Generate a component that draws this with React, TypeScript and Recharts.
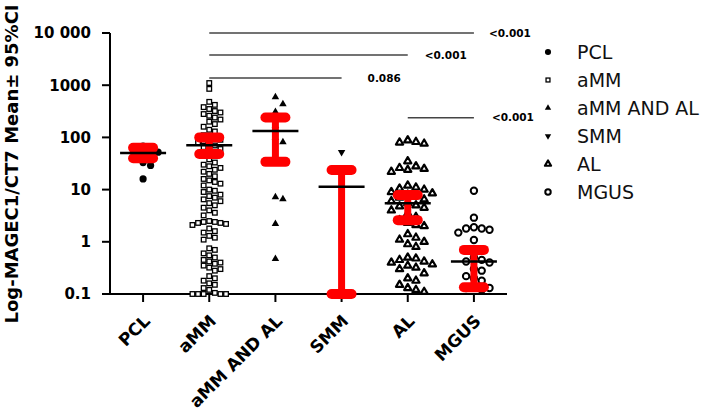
import React from 'react';
import {
  ComposedChart,
  Scatter,
  XAxis,
  YAxis,
  ReferenceLine,
  Legend
} from 'recharts';

// ---- data ----
const categories = ['PCL', 'aMM', 'aMM AND AL', 'SMM', 'AL', 'MGUS'];

const pclValues = [68, 62, 57, 52, 47, 43, 38, 33, 29, 16];
const ammValues = [
  1100, 850, 480, 420, 380, 350, 320, 300, 280, 260, 240, 220, 200, 180, 160, 140, 130,
  110, 100, 95, 90, 85, 80, 75, 70, 65, 60, 55, 50, 45,
  38, 33, 30, 28, 26, 24, 22, 20, 18, 16, 15, 14, 13, 12,
  10, 9.5, 9, 8, 7.5, 7, 6.5, 6, 5.5, 5, 4.5, 4, 3.6, 3.2,
  2.5, 2.4, 2.4, 2.3, 2.3, 2.2, 2.1,
  1.8, 1.6, 1.5, 1.3, 1.2, 1.1,
  0.75, 0.7, 0.6, 0.55, 0.5, 0.45, 0.42, 0.4, 0.38, 0.35, 0.32, 0.3, 0.28,
  0.22, 0.2, 0.18, 0.16, 0.15, 0.13, 0.12,
  0.105, 0.1, 0.1, 0.1, 0.1, 0.1
];
const ammAlValues = [590, 435, 310, 166, 98, 81, 38, 7.2, 6.6, 2.2, 0.47];
const smmValues = [52, 0.1];
const alValues = [
  88, 82, 80, 76, 35, 28, 26, 25, 24, 22, 12, 11, 10.5, 10, 9, 8.5, 8, 7.5, 7, 6.5,
  6, 5.5, 5, 4.8, 4.5, 4, 3.5, 3, 2.6, 2.3, 2.1, 2, 1.4, 1.2, 1.1, 1, 0.9, 0.8,
  0.5, 0.48, 0.45, 0.42, 0.4, 0.37, 0.35, 0.32, 0.3, 0.25, 0.2, 0.18, 0.15, 0.13,
  0.12, 0.11
];
const mgusValues = [
  9.5, 2.9, 1.9, 1.8, 1.8, 1.7, 1.5, 1.08, 0.5, 0.45, 0.42, 0.4, 0.3, 0.28, 0.22,
  0.2, 0.18, 0.14, 0.13, 0.13, 0.12
];

const meanValues = [50, 71, 132, 11.4, 5.5, 0.42];
const ciLow = [40, 48, 34, 0.1, 2.6, 0.135];
const ciHigh = [63, 100, 240, 23.7, 7.9, 0.7];

const yTicks = [0.1, 1, 10, 100, 1000, 10000];

// significance brackets: from group, to group, height, text
const sigFrom = [1, 1, 1, 4];
const sigTo = [5, 4, 3, 5];
const sigLevel = [10000, 3800, 1380, 238];
const sigText = ['<0.001', '<0.001', '0.086', '<0.001'];

// ---- layout ----
const W = 709;
const H = 412;
const MARGIN = { top: 33, right: 202, bottom: 0, left: 0 };
const Y_AXIS_W = 110;
const X_AXIS_H = 118;
const PLOT_W = W - MARGIN.left - MARGIN.right - Y_AXIS_W;
const PLOT_H = H - MARGIN.top - MARGIN.bottom - X_AXIS_H;
const BAND_PX = PLOT_W / categories.length;
const DECADE_PX = PLOT_H / 5;
const FONT = '"DejaVu Sans", sans-serif';
const RED = '#ff0000';
const sigLabelDx = [15, 17, 26, 18];
const markerDiam = [7.5, 5.6, 7.5, 7.5, 8.2, 7.8];

const groupValues = [pclValues, ammValues, ammAlValues, smmValues, alValues, mgusValues];

// simple beeswarm: dodge points sideways so markers don't overlap
function swarm(values: number[], idx: number, diam: number) {
  const placed: { x: number; y: number }[] = [];
  return [...values]
    .sort((a, b) => b - a)
    .map((v) => {
      const py = -Math.log10(v) * DECADE_PX;
      let off = 0;
      for (let k = 0; k < 60; k++) {
        const cand = k === 0 ? 0 : (k % 2 ? 1 : -1) * Math.ceil(k / 2) * diam;
        if (placed.every((p) => Math.hypot(p.x - cand, p.y - py) >= diam * 0.98)) {
          off = cand;
          break;
        }
      }
      placed.push({ x: off, y: py });
      return { x: idx + off / BAND_PX, y: v };
    });
}

function triPath(cx: number, cy: number, a: number, down = false) {
  const h = a * 0.866;
  const s = down ? -1 : 1;
  return `M${cx},${cy - (s * 2 * h) / 3}L${cx - a / 2},${cy + (s * h) / 3}L${cx + a / 2},${cy + (s * h) / 3}Z`;
}

function drawMarker(group: number, cx: number, cy: number, s = 1) {
  switch (group) {
    case 0:
      return <circle cx={cx} cy={cy} r={3.6 * s} fill="#000" />;
    case 1:
      return (
        <rect x={cx - 2.3 * s} y={cy - 2.3 * s} width={4.6 * s} height={4.6 * s}
          fill="#fff" stroke="#000" strokeWidth={1.3} />
      );
    case 2:
      return <path d={triPath(cx, cy, 7.5 * s)} fill="#000" />;
    case 3:
      return <path d={triPath(cx, cy, 7.5 * s, true)} fill="#000" />;
    case 4:
      return <path d={triPath(cx, cy, 7.2 * s)} fill="#fff" stroke="#000" strokeWidth={2.2} strokeLinejoin="round" />;
    default:
      return <circle cx={cx} cy={cy} r={3.2 * s} fill="#fff" stroke="#000" strokeWidth={2} />;
  }
}

function XTick(props: any) {
  const { x, y, payload } = props;
  return (
    <text
      transform={`translate(${x + 8},${y + 20}) rotate(-45)`}
      textAnchor="end"
      fontFamily={FONT}
      fontWeight="bold"
      fontSize={17}
      fill="#000"
    >
      {categories[payload.value]}
    </text>
  );
}

function YTitle() {
  return (
    <text
      transform="translate(18,164) rotate(-90)"
      textAnchor="middle"
      fontFamily={FONT}
      fontWeight="bold"
      fontSize={18}
      fill="#000"
    >
      Log-MAGEC1/CT7 Mean± 95%CI
    </text>
  );
}

function LegendBox() {
  return (
    <div style={{ fontFamily: FONT, fontSize: 19, color: '#111' }}>
      {categories.map((c, i) => (
        <div key={c} style={{ display: 'flex', alignItems: 'center', height: 28 }}>
          <svg width={20} height={20} style={{ marginRight: 19 }}>
            {drawMarker(i, 10, 10, 0.85)}
          </svg>
          <span style={{ whiteSpace: 'nowrap' }}>{c}</span>
        </div>
      ))}
    </div>
  );
}

export default function App() {
  const pointSets = groupValues.map((vals, i) => swarm(vals, i, markerDiam[i]));
  const meanData = meanValues.map((m, i) => ({ x: i, y: m }));
  const sigLabels = sigText.map((t, i) => ({ x: sigTo[i], y: sigLevel[i], text: t, k: i }));

  return (
    <div style={{ position: 'absolute', left: 0, top: 0, width: W, height: H, background: '#fff' }}>
      <ComposedChart width={W} height={H} margin={MARGIN}>
        <XAxis
          type="number"
          dataKey="x"
          domain={[-0.5, categories.length - 0.5]}
          ticks={categories.map((_, i) => i)}
          interval={0}
          height={X_AXIS_H}
          tick={<XTick />}
          tickSize={8}
          tickMargin={0}
          axisLine={{ stroke: '#000', strokeWidth: 2 }}
          tickLine={{ stroke: '#000', strokeWidth: 2 }}
        />
        <YAxis
          type="number"
          dataKey="y"
          scale="log"
          domain={[0.1, 10000]}
          ticks={yTicks}
          width={Y_AXIS_W}
          tickFormatter={(v: number) => (v === 10000 ? '10 000' : String(v))}
          tick={{ fill: '#000', fontSize: 15, fontWeight: 'bold', fontFamily: FONT }}
          tickSize={8}
          tickMargin={11}
          axisLine={{ stroke: '#000', strokeWidth: 2 }}
          tickLine={{ stroke: '#000', strokeWidth: 2 }}
          label={<YTitle />}
        />
        <Legend
          layout="vertical"
          align="center"
          verticalAlign="middle"
          content={<LegendBox />}
          wrapperStyle={{ left: 538, top: 38, width: 171, height: 170 }}
        />

        {pointSets.map((pts, i) => (
          <Scatter
            key={categories[i]}
            name={categories[i]}
            data={pts}
            dataKey="y"
            isAnimationActive={false}
            shape={(p: any) => drawMarker(i, p.cx, p.cy)}
          />
        ))}

        {categories.map((c, i) => (
          <Scatter
            key={`ci-${c}`}
            data={[{ x: i, y: ciLow[i] }, { x: i, y: ciHigh[i] }]}
            dataKey="y"
            isAnimationActive={false}
            line={{ stroke: RED, strokeWidth: 7 }}
            shape={(p: any) => (
              <rect x={p.cx - 15} y={p.cy - 5} width={30} height={10} rx={5} fill={RED} />
            )}
          />
        ))}

        <Scatter
          data={meanData}
          dataKey="y"
          isAnimationActive={false}
          shape={(p: any) => (
            <line x1={p.cx - 23} x2={p.cx + 23} y1={p.cy} y2={p.cy} stroke="#000" strokeWidth={2.5} />
          )}
        />

        {sigText.map((t, i) => (
          <ReferenceLine
            key={`sig-${i}`}
            segment={[{ x: sigFrom[i], y: sigLevel[i] }, { x: sigTo[i], y: sigLevel[i] }]}
            stroke="#444"
            strokeWidth={1.5}
            ifOverflow="visible"
          />
        ))}

        <Scatter
          data={sigLabels}
          dataKey="y"
          isAnimationActive={false}
          shape={(p: any) => (
            <text
              x={p.cx + sigLabelDx[p.payload.k]}
              y={p.cy}
              dy="0.35em"
              fontFamily={FONT}
              fontWeight="bold"
              fontSize={10.5}
              fill="#000"
            >
              {p.payload.text}
            </text>
          )}
        />
      </ComposedChart>
    </div>
  );
}
